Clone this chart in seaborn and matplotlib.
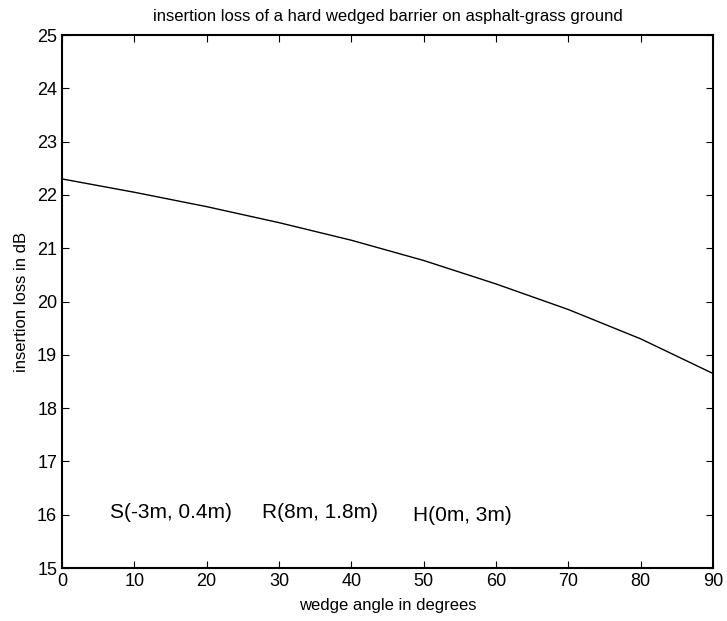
import matplotlib
matplotlib.use('Agg')
import matplotlib.pyplot as plt
import pandas as pd
import seaborn as sns

wedge_angle = [0, 10, 20, 30, 40, 50, 60, 70, 80, 90]
insertion_loss = [22.3, 22.05, 21.78, 21.48, 21.15, 20.77, 20.33, 19.85, 19.3, 18.65]

labels = ['S(-3m, 0.4m)', 'R(8m, 1.8m)', 'H(0m, 3m)']
label_x = [6.6, 27.6, 48.5]
label_y = [16.05, 16.05, 15.98]

sns.set_style('ticks', {'text.color': 'black', 'axes.labelcolor': 'black',
                        'xtick.color': 'black', 'ytick.color': 'black'})
plt.rcParams['font.family'] = ['Liberation Sans', 'DejaVu Sans']

df = pd.DataFrame({'angle': wedge_angle, 'loss': insertion_loss})

fig = plt.figure(figsize=(7.27, 6.21), dpi=100)
ax = fig.add_axes([0.0853, 0.0853, 0.8954, 0.8583])
sns.lineplot(data=df, x='angle', y='loss', color='black', linewidth=1, ax=ax)

for lab, x, y in zip(labels, label_x, label_y):
    ax.text(x, y, lab, fontsize=15, va='center', ha='left', color='black')

ax.set_xlim(0, 90)
ax.set_ylim(15, 25)
ax.set_xticks(range(0, 91, 10))
ax.set_yticks(range(15, 26))
ax.tick_params(direction='in', top=True, right=True, labelsize=13, length=5, width=0.8)
for s in ax.spines.values():
    s.set_linewidth(1.5)
    s.set_color('black')
ax.set_xlabel('wedge angle in degrees', fontsize=12, labelpad=6)
ax.set_ylabel('insertion loss in dB', fontsize=12, labelpad=6)
ax.set_title('insertion loss of a hard wedged barrier on asphalt-grass ground', fontsize=12, pad=10)

fig.savefig('out.png', dpi=100)
